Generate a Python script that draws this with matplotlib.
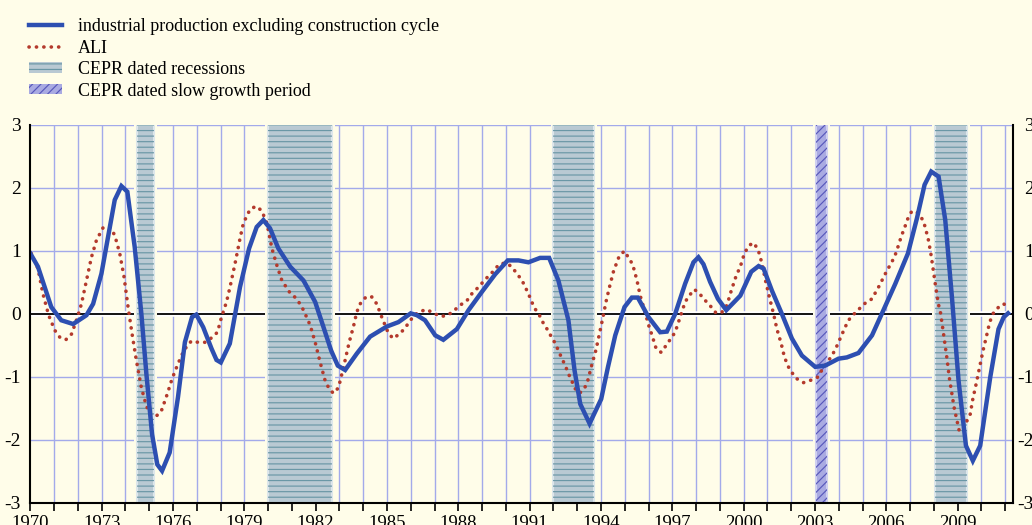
import matplotlib
matplotlib.use("Agg")
import matplotlib.pyplot as plt
import matplotlib.transforms as mtransforms
from matplotlib.lines import Line2D
from matplotlib.patches import Patch

plt.rcParams['font.family'] = ['Liberation Serif', 'DejaVu Serif']
plt.rcParams['hatch.linewidth'] = 0.85

# industrial production excluding construction, cycle component (std units)
ip_t = [1970.0, 1970.32, 1970.88, 1971.3, 1971.8, 1972.36, 1972.64, 1972.99,
        1973.55, 1973.83, 1974.08, 1974.39, 1974.67, 1974.88, 1975.12, 1975.34,
        1975.54, 1975.86, 1976.21, 1976.5, 1976.8, 1976.98, 1977.27, 1977.62,
        1977.83, 1978.01, 1978.39, 1978.82, 1979.2, 1979.52, 1979.8, 1980.08,
        1980.43, 1980.93, 1981.49, 1981.98, 1982.33, 1982.65, 1982.93, 1983.24,
        1983.73, 1984.29, 1984.99, 1985.48, 1986.0, 1986.26, 1986.6, 1987.03,
        1987.37, 1987.94, 1988.43, 1988.99, 1989.55, 1990.08, 1990.53, 1990.95,
        1991.44, 1991.82, 1992.21, 1992.63, 1992.89, 1993.13, 1993.52, 1994.01,
        1994.29, 1994.6, 1994.99, 1995.3, 1995.55, 1996.0, 1996.49, 1996.77,
        1997.12, 1997.54, 1997.89, 1998.1, 1998.31, 1998.59, 1998.92, 1999.27,
        1999.86, 2000.32, 2000.63, 2000.84, 2001.19, 2001.61, 2002.03, 2002.45,
        2003.01, 2003.43, 2003.99, 2004.34, 2004.83, 2005.4, 2005.88, 2006.38,
        2006.91, 2007.29, 2007.61, 2007.89, 2008.2, 2008.48, 2008.76, 2009.04,
        2009.35, 2009.64, 2009.95, 2010.37, 2010.72, 2010.94, 2011.12]
ip_v = [0.96, 0.75, 0.11, -0.10, -0.16, -0.02, 0.16, 0.64,
        1.81, 2.03, 1.94, 1.06, 0.0, -0.95, -1.91, -2.39,
        -2.49, -2.20, -1.32, -0.45, -0.05, -0.01, -0.21, -0.55,
        -0.73, -0.77, -0.47, 0.43, 1.04, 1.38, 1.49, 1.36,
        1.04, 0.75, 0.53, 0.19, -0.21, -0.58, -0.82, -0.89,
        -0.63, -0.36, -0.20, -0.13, 0.01, -0.02, -0.10, -0.34,
        -0.41, -0.24, 0.06, 0.35, 0.63, 0.85, 0.85, 0.82,
        0.89, 0.89, 0.53, -0.10, -0.90, -1.43, -1.74, -1.35,
        -0.85, -0.34, 0.11, 0.26, 0.26, -0.05, -0.29, -0.28,
        0.0, 0.48, 0.82, 0.90, 0.79, 0.51, 0.24, 0.06,
        0.29, 0.67, 0.76, 0.72, 0.37, 0.0, -0.39, -0.66,
        -0.84, -0.82, -0.71, -0.69, -0.62, -0.34, 0.06, 0.48,
        0.96, 1.52, 2.05, 2.26, 2.18, 1.49, 0.27, -1.06,
        -2.09, -2.33, -2.09, -1.01, -0.24, -0.05, 0.01]

# ALI (leading indicator)
ali_t = [1970.04, 1970.32, 1970.53, 1970.77, 1971.03, 1971.24, 1971.49, 1971.73,
         1971.94, 1972.15, 1972.36, 1972.57, 1972.78, 1973.06, 1973.34, 1973.55,
         1973.76, 1973.94, 1974.11, 1974.28, 1974.46, 1974.67, 1974.88, 1975.06,
         1975.3, 1975.51, 1975.76, 1975.96, 1976.21, 1976.47, 1976.77, 1977.06,
         1977.34, 1977.62, 1977.87, 1978.04, 1978.25, 1978.4, 1978.61, 1978.82,
         1978.96, 1979.24, 1979.49, 1979.73, 1979.95, 1980.16, 1980.37, 1980.58,
         1980.93, 1981.21, 1981.49, 1981.77, 1981.98, 1982.19, 1982.4, 1982.57,
         1982.75, 1982.96, 1983.17, 1983.41, 1983.59, 1983.73, 1983.91, 1984.15,
         1984.36, 1984.57, 1984.78, 1985.04, 1985.25, 1985.48, 1985.73, 1985.93,
         1986.15, 1986.39, 1986.68, 1986.96, 1987.28, 1987.56, 1987.84, 1988.08,
         1988.36, 1988.57, 1988.78, 1989.02, 1989.24, 1989.48, 1989.72, 1990.0,
         1990.25, 1990.46, 1990.67, 1990.95, 1991.09, 1991.23, 1991.41, 1991.58,
         1991.75, 1991.91, 1992.08, 1992.22, 1992.36, 1992.5, 1992.62, 1992.77,
         1992.9, 1993.1, 1993.32, 1993.45, 1993.62, 1993.79, 1993.93, 1994.08,
         1994.21, 1994.36, 1994.53, 1994.77, 1994.99, 1995.16, 1995.33, 1995.51,
         1995.65, 1995.83, 1996.03, 1996.14, 1996.32, 1996.53, 1996.74, 1996.94,
         1997.12, 1997.33, 1997.54, 1997.71, 1997.93, 1998.17, 1998.42, 1998.64,
         1998.85, 1999.09, 1999.3, 1999.48, 1999.69, 1999.86, 2000.04, 2000.24,
         2000.42, 2000.61, 2000.78, 2000.92, 2001.08, 2001.26, 2001.4, 2001.58,
         2001.72, 2001.92, 2002.2, 2002.52, 2002.84, 2003.13, 2003.29, 2003.5,
         2003.68, 2003.85, 2003.99, 2004.13, 2004.27, 2004.41, 2004.62, 2004.86,
         2005.11, 2005.4, 2005.56, 2005.74, 2005.88, 2006.03, 2006.2, 2006.36,
         2006.47, 2006.57, 2006.68, 2006.79, 2006.89, 2007.07, 2007.28, 2007.49,
         2007.63, 2007.78, 2007.89, 2007.99, 2008.09, 2008.19, 2008.28, 2008.38,
         2008.47, 2008.56, 2008.65, 2008.75, 2008.85, 2008.93, 2009.07, 2009.22,
         2009.36, 2009.53, 2009.64, 2009.78, 2009.92, 2010.07, 2010.21, 2010.35,
         2010.5, 2010.75, 2010.94, 2011.18]
ali_v = [0.96, 0.72, 0.32, -0.02, -0.26, -0.37, -0.41, -0.32,
         -0.10, 0.16, 0.53, 0.90, 1.17, 1.37, 1.38, 1.25,
         0.96, 0.59, 0.11, -0.32, -0.74, -1.17, -1.46, -1.60,
         -1.62, -1.54, -1.27, -1.03, -0.79, -0.57, -0.43, -0.45,
         -0.45, -0.38, -0.29, -0.05, 0.19, 0.43, 0.80, 1.20,
         1.44, 1.66, 1.71, 1.64, 1.44, 1.04, 0.77, 0.53,
         0.33, 0.24, 0.06, -0.18, -0.45, -0.77, -1.06, -1.19,
         -1.26, -1.17, -0.85, -0.45, -0.20, 0.03, 0.19, 0.28,
         0.27, 0.16, -0.05, -0.29, -0.39, -0.33, -0.24, -0.13,
         -0.02, 0.04, 0.07, 0.01, -0.04, -0.02, 0.06, 0.14,
         0.21, 0.32, 0.40, 0.50, 0.59, 0.68, 0.79, 0.81,
         0.75, 0.64, 0.54, 0.32, 0.19, 0.08, -0.02, -0.15,
         -0.25, -0.36, -0.47, -0.59, -0.71, -0.82, -0.94, -1.06,
         -1.18, -1.26, -1.17, -1.05, -0.80, -0.57, -0.32, -0.06,
         0.19, 0.43, 0.68, 0.92, 1.00, 0.89, 0.79, 0.54,
         0.29, 0.06, -0.21, -0.33, -0.55, -0.61, -0.50, -0.39,
         -0.29, -0.05, 0.19, 0.29, 0.39, 0.31, 0.20, 0.11,
         0.01, 0.03, 0.14, 0.37, 0.61, 0.75, 0.97, 1.09,
         1.13, 1.02, 0.79, 0.53, 0.27, 0.0, -0.24, -0.47,
         -0.69, -0.87, -1.02, -1.09, -1.05, -1.00, -0.89, -0.78,
         -0.68, -0.57, -0.45, -0.33, -0.21, -0.10, -0.01, 0.08,
         0.17, 0.24, 0.35, 0.47, 0.58, 0.69, 0.80, 0.92,
         1.04, 1.16, 1.28, 1.39, 1.50, 1.63, 1.62, 1.52,
         1.39, 1.16, 0.92, 0.66, 0.40, 0.16, 0.02, -0.24,
         -0.49, -0.73, -1.01, -1.25, -1.48, -1.62, -1.86, -1.83,
         -1.72, -1.59, -1.35, -1.11, -0.85, -0.58, -0.36, -0.13,
         0.01, 0.12, 0.16, 0.08]

# CEPR dated periods (start, end)
recessions = [(1974.5, 1975.2), (1980.0, 1982.7), (1992.0, 1993.72), (2008.05, 2009.38)]
slow_growth = [(2003.05, 2003.5)]

year_ticks = list(range(1970, 2010, 3))
y_ticks = [-3, -2, -1, 0, 1, 2, 3]

bg = '#fffde9'
grid_col = '#a3aaea'
rec_face = '#b9c9d3'
rec_line = '#6a97a6'
slow_face = '#a9aae2'
slow_line = '#5858bb'
ip_col = '#2d4fb1'
ali_col = '#b43a2c'
ali_dash = (0, (0.05, 2.0))

fig = plt.figure(figsize=(10.32, 5.25), dpi=100, facecolor=bg)
ax = fig.add_axes([0.0294, 0.042, 0.9522, 0.72])
ax.set_facecolor(bg)

# grid
for yr in range(1971, 2012):
    ax.axvline(yr, color=grid_col, lw=1.0, zorder=1)
for v in [-3, -2, -1, 1, 2, 3]:
    ax.axhline(v, color=grid_col, lw=1.0, zorder=1)
ax.axhline(0, color='white', lw=4, zorder=2)
ax.axhline(0, color='black', lw=1.3, zorder=2.1)

# shaded periods
for a, b in recessions:
    ax.axvspan(a - 0.12, b + 0.12, color=bg, lw=0, zorder=3)
    ax.axvspan(a, b, facecolor=rec_face, edgecolor='#dde6ea', lw=1.5, zorder=3.1)
    ax.axvspan(a, b, facecolor='none', edgecolor=rec_line, lw=0, hatch='---', zorder=3.2)
for a, b in slow_growth:
    ax.axvspan(a - 0.12, b + 0.12, color=bg, lw=0, zorder=3)
    ax.axvspan(a, b, facecolor=slow_face, edgecolor='#d0d0f0', lw=1.5, zorder=3.1)
    ax.axvspan(a, b, facecolor='none', edgecolor=slow_line, lw=0, hatch='////', zorder=3.2)

ax.plot(ali_t, ali_v, color=ali_col, lw=2.6, linestyle=ali_dash,
        dash_capstyle='round', zorder=5)
ax.plot(ip_t, ip_v, color=ip_col, lw=3.2, solid_joinstyle='miter', zorder=6)

ax.set_xlim(1970, 2011.33)
ax.set_ylim(-3, 3)
ax.set_xticks(year_ticks)
ax.set_xticklabels([str(y) for y in year_ticks])
ax.set_xticks(range(1970, 2012), minor=True)
ax.tick_params(axis='x', which='both', direction='out', length=6, width=1.2,
               color='black', labelsize=13.5, pad=3)
ax.set_yticks(y_ticks)
ax.set_yticklabels([str(v) for v in y_ticks])
ax.tick_params(axis='y', length=0, labelsize=14, pad=7, labelright=True)

# right-hand labels are right aligned, a little way past the frame
offset = mtransforms.ScaledTranslation(11 / 100, 0, fig.dpi_scale_trans)
for t in ax.yaxis.get_major_ticks():
    t.label2.set_horizontalalignment('right')
    t.label2.set_transform(t.label2.get_transform() + offset)

for s in ['left', 'right', 'bottom']:
    ax.spines[s].set_color('black')
    ax.spines[s].set_linewidth(1.5)
    ax.spines[s].set_zorder(7)
ax.spines['top'].set_visible(False)

handles = [
    Line2D([], [], color=ip_col, lw=3.2),
    Line2D([], [], color=ali_col, lw=2.6, linestyle=ali_dash, dash_capstyle='round'),
    Patch(facecolor=rec_face, edgecolor=rec_line, lw=0, hatch='---'),
    Patch(facecolor=slow_face, edgecolor=slow_line, lw=0, hatch='////'),
]
labels = ['industrial production excluding construction cycle', 'ALI',
          'CEPR dated recessions', 'CEPR dated slow growth period']
fig.legend(handles, labels, loc='upper left', bbox_to_anchor=(29 / 1032, 1 - 18 / 525),
           frameon=False, fontsize=13, handlelength=1.8, handleheight=0.5,
           handletextpad=0.9, labelspacing=0.25, borderpad=0, borderaxespad=0)

fig.savefig('out.png', dpi=100, facecolor=bg)
